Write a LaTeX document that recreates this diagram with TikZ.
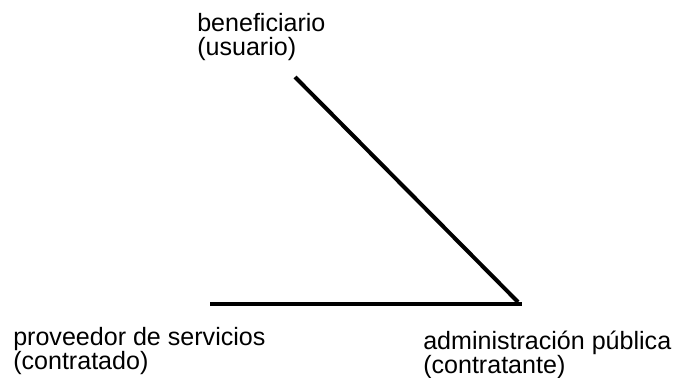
\documentclass[tikz,border=0pt]{standalone}
\usepackage{fontspec}
\setmainfont{Liberation Sans}
\begin{document}
\begin{tikzpicture}[x=0.75pt,y=-0.75pt]
\tikzstyle{rolelabel} = [anchor=base west, align=left, inner sep=0pt, font=\fontsize{18.8pt}{18pt}\selectfont] % text of each party
\tikzstyle{tie} = [line width=3pt, line cap=butt] % thick black link
\useasboundingbox (0,0) rectangle (678,378);
%
\node[rolelabel] (benef) at (197,56) {beneficiario\\(usuario)};
\node[rolelabel] (prov) at (13,369) {proveedor de servicios\\(contratado)};
\node[rolelabel] (admin) at (423,373) {administración pública\\(contratante)};
%
\coordinate (top) at (295,77); % end under the user
\coordinate (corner) at (518,302); % meeting point
\coordinate (left) at (210,304);
\coordinate (right) at (522,304);
\draw[tie] (top) -- (corner);
\draw[tie] (left) -- (right);
\end{tikzpicture}
\end{document}
